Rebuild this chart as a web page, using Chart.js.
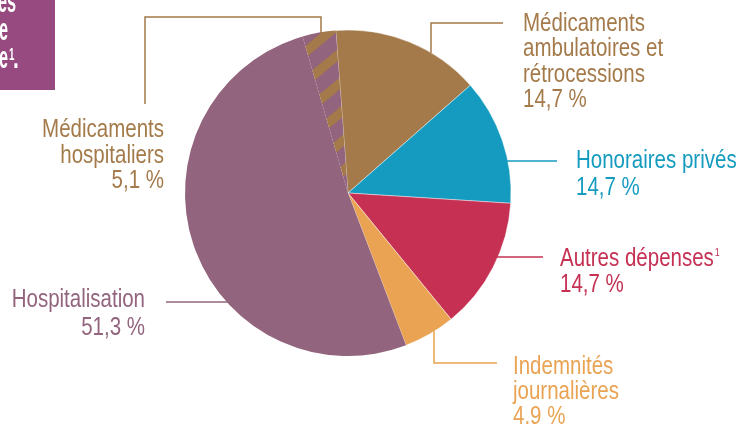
<!DOCTYPE html>
<html><head><meta charset="utf-8">
<script src="https://cdn.jsdelivr.net/npm/chart.js@4"></script>
<style>html,body{margin:0;padding:0;background:#fff;overflow:hidden}canvas{display:block}</style>
</head><body>
<canvas id="c" width="739" height="425"></canvas>
<script>
const categories = ['Médicaments ambulatoires et rétrocessions','Honoraires privés','Autres dépenses','Indemnités journalières','Hospitalisation','Médicaments hospitaliers'];
const sliceValues = [14.7, 12.5, 13.1, 5.1, 51.3, 3.3];
const percentLabels = ['14,7 %','14,7 %','14,7 %','4.9 %','51,3 %','5,1 %'];
const labelLines = [
  ['Médicaments','ambulatoires et','rétrocessions'],
  ['Honoraires privés'],
  ['Autres dépenses'],
  ['Indemnités','journalières'],
  ['Hospitalisation'],
  ['Médicaments','hospitaliers']
];
const titleLines = ['Répartition des','dépenses de l\u2019Assurance','maladie'];

const BROWN='#A47A4A', BLUE='#149BBF', RED='#C53053', ORANGE='#E9A353', PURPLE='#93647D', BOX='#964A80';

function hasFont(name){
  const c=document.createElement('canvas').getContext('2d');
  const s='Médicaments ambulatoires wiW';
  c.font='40px monospace'; const a=c.measureText(s).width;
  c.font='40px "'+name+'", monospace'; const b=c.measureText(s).width;
  return Math.abs(a-b)>0.5;
}
const NARROW = hasFont('Liberation Sans Narrow');

function txt(ctx, s, x, y, size, color, align, bold, squeeze){
  ctx.save();
  ctx.fillStyle=color; ctx.textAlign=align||'left'; ctx.textBaseline='alphabetic';
  ctx.translate(x,y);
  let sx=squeeze||1;
  if(NARROW){ ctx.font=(bold?'bold ':'')+size+'px "Liberation Sans Narrow"'; }
  else { ctx.font=(bold?'bold ':'')+size+'px "Liberation Sans", Arial, sans-serif'; sx*=0.82; }
  ctx.scale(sx,1);
  ctx.fillText(s,0,0);
  const w=ctx.measureText(s).width*sx;
  ctx.restore();
  return w;
}
function poly(ctx, pts, color){
  ctx.save(); ctx.strokeStyle=color; ctx.lineWidth=1.5; ctx.lineJoin='miter';
  ctx.beginPath(); ctx.moveTo(pts[0][0],pts[0][1]);
  for(let i=1;i<pts.length;i++) ctx.lineTo(pts[i][0],pts[i][1]);
  ctx.stroke(); ctx.restore();
}

const canvas=document.getElementById('c');
const ctx=canvas.getContext('2d');

function makeHatch(){
  const W=36,H=30,t=12,off=0.6,s=H/W;
  const c=document.createElement('canvas'); c.width=W; c.height=H;
  const x=c.getContext('2d');
  x.fillStyle=PURPLE; x.fillRect(0,0,W,H);
  x.fillStyle=BROWN;
  for(let n=-2;n<=2;n++){
    const b=off+n*H;
    x.beginPath(); x.moveTo(0,b); x.lineTo(W,b-s*W); x.lineTo(W,b-s*W+t); x.lineTo(0,b+t); x.closePath(); x.fill();
  }
  return ctx.createPattern(c,'repeat');
}

const annotations = {
  id:'annotations',
  afterDraw(chart){
    const g=chart.ctx;
    // title box (cut off at the left edge)
    g.save(); g.fillStyle=BOX; g.fillRect(0,0,55,90); g.restore();
    txt(g, titleLines[0], 16, 12, 32, '#fff', 'right', true, 0.62);
    txt(g, titleLines[1], 8, 40, 32, '#fff', 'right', true, 0.62);
    txt(g, titleLines[2], 8, 68, 32, '#fff', 'right', true, 0.62);
    txt(g, '1', 9, 60, 17, '#fff', 'left', true, 0.7);
    txt(g, '.', 13, 68, 32, '#fff', 'left', true, 0.8);

    const F=25;
    // Médicaments ambulatoires
    poly(g, [[503,23],[431,23],[431,53]], BROWN);
    labelLines[0].forEach((l,i)=>txt(g,l,523,31+i*25.3,F,BROWN,'left'));
    txt(g,percentLabels[0],523,107,F,BROWN,'left');
    // Honoraires privés
    poly(g, [[507,161],[557,161]], BLUE);
    txt(g,labelLines[1][0],576,168,F,BLUE,'left');
    txt(g,percentLabels[1],576,195,F,BLUE,'left');
    // Autres dépenses
    poly(g, [[497,257],[543,257]], RED);
    const w=txt(g,labelLines[2][0],560,266,F,RED,'left');
    txt(g,'1',560+w+1,256,11,RED,'left');
    txt(g,percentLabels[2],560,292,F,RED,'left');
    // Indemnités journalières
    poly(g, [[434,331],[434,363],[497,363]], ORANGE);
    labelLines[3].forEach((l,i)=>txt(g,l,513,374+i*25,F,ORANGE,'left'));
    txt(g,percentLabels[3],513,424,F,ORANGE,'left');
    // Hospitalisation
    poly(g, [[166,302],[228,302]], PURPLE);
    txt(g,labelLines[4][0],145,307,F,PURPLE,'right');
    txt(g,percentLabels[4],145,335,F,PURPLE,'right');
    // Médicaments hospitaliers
    poly(g, [[145,104],[145,17],[321,17],[321,33]], BROWN);
    labelLines[5].forEach((l,i)=>txt(g,l,164,137+i*25.5,F,BROWN,'right'));
    txt(g,percentLabels[5],164,188,F,BROWN,'right');
  }
};

const hatch=makeHatch();
const clear='rgba(0,0,0,0)', sep='rgba(255,255,255,0.55)';

new Chart(ctx,{
  type:'pie',
  data:{
    labels:categories,
    datasets:[{
      data:sliceValues,
      backgroundColor:[BROWN,BLUE,RED,ORANGE,PURPLE,hatch],
      borderColor:[sep,sep,sep,sep,clear,clear],
      borderWidth:0.8,
      hoverOffset:0
    }]
  },
  options:{
    responsive:false,
    animation:false,
    rotation:-4.3,
    radius:163,
    layout:{padding:{top:30,bottom:69,left:185,right:228}},
    plugins:{legend:{display:false},tooltip:{enabled:false}},
    events:[]
  },
  plugins:[annotations]
});
</script>
</body></html>
